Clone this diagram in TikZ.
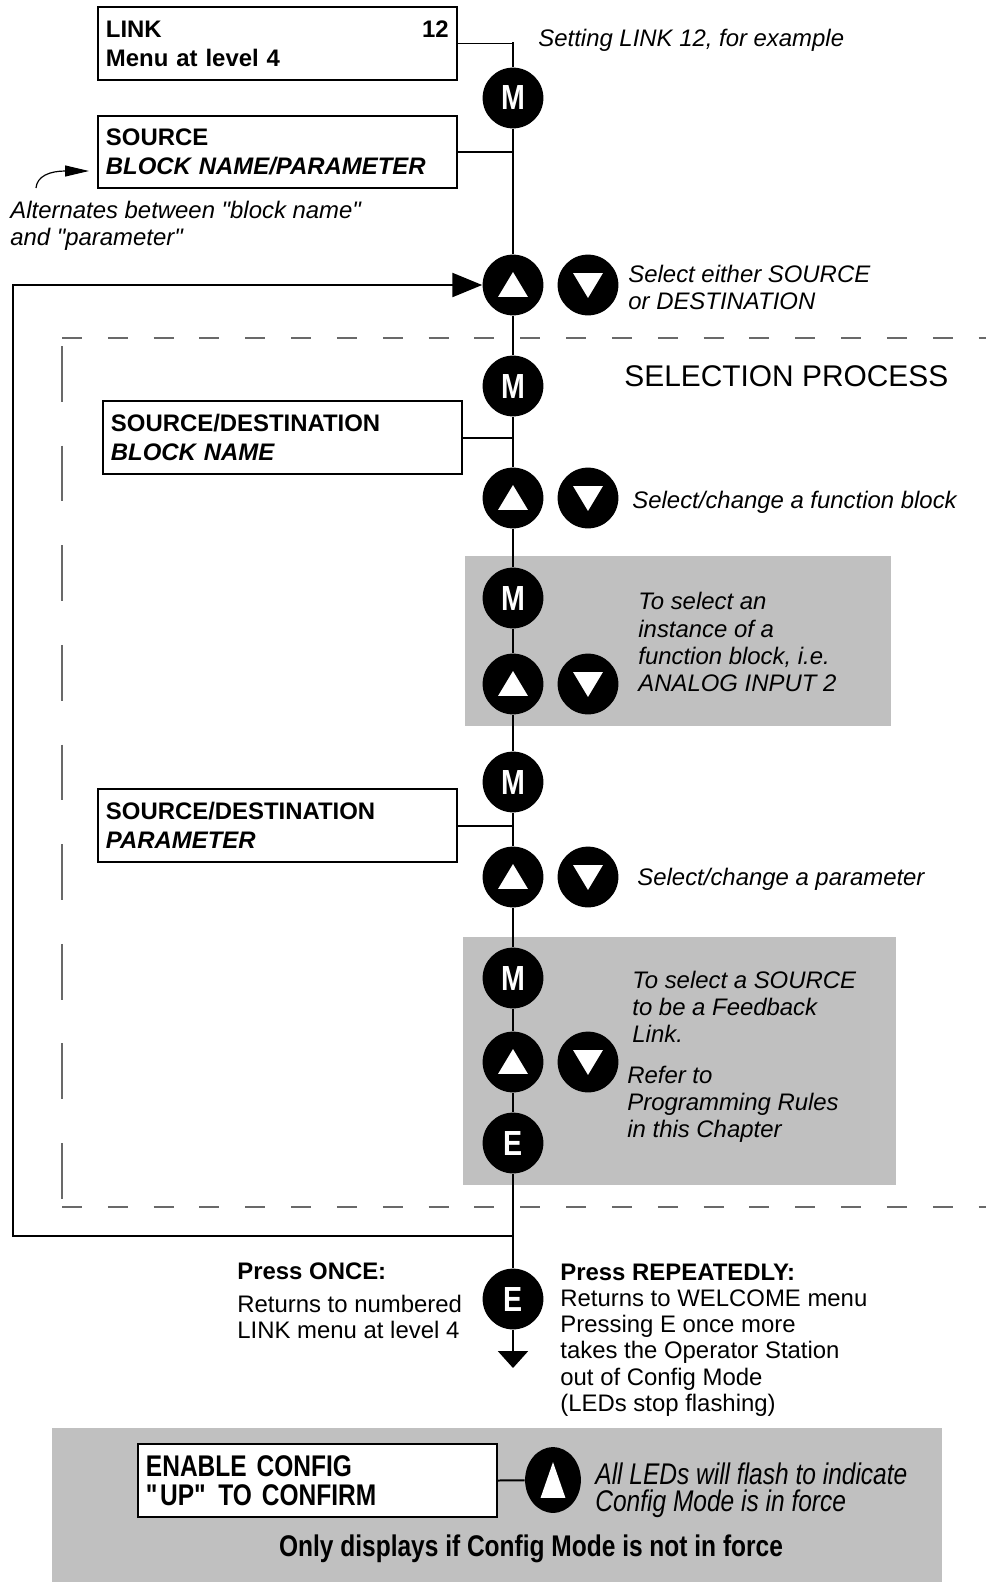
\documentclass[tikz,border=0pt]{standalone}
\usepackage{fontspec}
\setmainfont{Liberation Sans}
\newfontfamily\narrowfont[FakeStretch=0.82]{Liberation Sans}
\usetikzlibrary{arrows.meta, shapes.geometric, calc}

\definecolor{panelgray}{RGB}{192,192,192}
\definecolor{framegray}{RGB}{105,105,105}

\tikzset{
  flowline/.style={line width=1.25pt},
  btn/.style={circle, fill=black, minimum size=30.5pt, inner sep=0pt, text=white, font=\narrowfont\bfseries\fontsize{17.5}{17.5}\selectfont},
  upbtn/.style={btn, path picture={\fill[white] ([shift={(-7.5pt,-6pt)}]path picture bounding box.center) -- ++(15pt,0pt) -- ++(-7.5pt,12.5pt) -- cycle;}},
  dnbtn/.style={btn, path picture={\fill[white] ([shift={(-7.5pt,6pt)}]path picture bounding box.center) -- ++(15pt,0pt) -- ++(-7.5pt,-12.5pt) -- cycle;}},
  dispbox/.style={draw, line width=1pt, fill=white, anchor=west, text width=172pt, inner xsep=4pt, minimum height=36.5pt, align=left, font=\bfseries\fontsize{12}{14.5}\selectfont},
  lbl/.style={anchor=west, inner sep=0pt, align=left, font=\itshape\fontsize{12}{13.6}\selectfont},
  plain/.style={anchor=west, inner sep=0pt, align=left, font=\fontsize{12}{13.2}\selectfont}
}

\begin{document}
\begin{tikzpicture}[x=0.5bp, y=-0.5bp]
  \useasboundingbox (0,0) rectangle (986,1582);

  % shaded panels
  \fill[panelgray] (465,556) rectangle (891,726);
  \fill[panelgray] (463,937) rectangle (896,1185);
  \fill[panelgray] (52,1428) rectangle (942,1582);

  % selection frame
  \draw[framegray, line width=0.6pt, dash pattern=on 10pt off 13pt] (62,338) -- (986,338);
  \draw[framegray, line width=0.6pt, dash pattern=on 28pt off 22pt] (62,346) -- (62,1207);
  \draw[framegray, line width=0.6pt, dash pattern=on 10pt off 13pt] (62,1207) -- (986,1207);

  % displays
  \node[dispbox] (link) at (97,43.5) {LINK\hfill 12\hspace*{4.5pt}\\Menu at level 4};
  \node[dispbox] (source) at (97,152) {SOURCE\\\textit{BLOCK NAME/PARAMETER}};
  \node[dispbox] (bname) at (102,437.5) {SOURCE/DESTINATION\\\textit{BLOCK NAME}};
  \node[dispbox] (param) at (97,825.5) {SOURCE/DESTINATION\\\textit{PARAMETER}};

  % keys on the main path
  \coordinate (top) at (513,42);
  \node[btn] (m1) at (513,98) {M};
  \node[upbtn] (up1) at (513,285) {};
  \node[dnbtn] (dn1) at (588,285) {};
  \node[btn] (m2) at (513,386) {M};
  \node[upbtn] (up2) at (513,498) {};
  \node[dnbtn] (dn2) at (588,498) {};
  \node[btn] (m3) at (513,598) {M};
  \node[upbtn] (up3) at (513,684) {};
  \node[dnbtn] (dn3) at (588,684) {};
  \node[btn] (m4) at (513,782) {M};
  \node[upbtn] (up4) at (513,877) {};
  \node[dnbtn] (dn4) at (588,877) {};
  \node[btn] (m5) at (513,978) {M};
  \node[upbtn] (up5) at (513,1062) {};
  \node[dnbtn] (dn5) at (588,1062) {};
  \node[btn] (e1) at (513,1143) {E};
  \node[btn] (e2) at (513,1299) {E};
  \coordinate (fb) at (513,1236);
  \coordinate (loop) at (13,1236);
  \coordinate (exit) at (513,1368);

  \draw[flowline] (top) -- (m1) -- (up1) -- (m2) -- (up2) -- (m3) -- (up3) -- (m4) -- (up4) -- (m5) -- (up5) -- (e1) -- (e2);
  \draw[flowline, -{Triangle[width=15pt,length=8.5pt]}] (e2) -- (exit);
  \draw[flowline, -{Triangle[width=12pt,length=15pt]}] (fb) -- (loop) |- (up1);

  \draw[line width=1pt] (link.east) -- (link.east -| top);
  \draw[line width=1pt] (source.east) -- (source.east -| top);
  \draw[line width=1pt] (bname.east) -- (bname.east -| top);
  \draw[line width=1pt] (param.east) -- (param.east -| top);

  % alternating hint
  \coordinate (altstart) at (36,188);
  \coordinate (altend) at (89,171);
  \draw[line width=0.6pt, -{Triangle[width=5.5pt,length=12pt]}] (altstart) .. controls (37,176) and (50,171) .. (altend);
  \node[lbl] (alt) at (10,226) {Alternates between \textquotedbl block name\textquotedbl\\and \textquotedbl parameter\textquotedbl};

  % notes
  \node[lbl] (set) at (538,40) {Setting LINK 12, for example};
  \node[lbl] (selsrc) at (628,287) {Select either SOURCE\\or DESTINATION};
  \node[plain, font=\fontsize{15}{18}\selectfont] (selproc) at (624,376) {SELECTION PROCESS};
  \node[lbl] (selfb) at (632,502) {Select/change a function block};
  \node[lbl] (inst) at (638,642) {To select an\\instance of a\\function block, i.e.\\ANALOG INPUT 2};
  \node[lbl] (selpar) at (637,879) {Select/change a parameter};
  \node[lbl] (fbsrc) at (632,1007) {To select a SOURCE\\to be a Feedback\\Link.};
  \node[lbl] (refer) at (627,1104) {Refer to\\Programming Rules\\in this Chapter};

  \node[plain] (once) at (237,1301) {\textbf{Press ONCE:}\\[3pt]Returns to numbered\\LINK menu at level 4};
  \node[plain] (rep) at (560,1340) {\textbf{Press REPEATEDLY:}\\Returns to WELCOME menu\\Pressing E once more\\takes the Operator Station\\out of Config Mode\\(LEDs stop flashing)};

  % config prompt
  \node[dispbox, font=\narrowfont\bfseries\fontsize{15}{14.5}\selectfont] (enable) at (137,1480.5) {ENABLE CONFIG\\\textquotedbl UP\textquotedbl{} TO CONFIRM};
  \node[ellipse, fill=black, minimum width=28pt, minimum height=33pt, inner sep=0pt,
    path picture={\fill[white] ([shift={(-6.25pt,-9pt)}]path picture bounding box.center) -- ++(12.5pt,0pt) -- ++(-6.25pt,18pt) -- cycle;}] (upc) at (553,1480) {};
  \draw[line width=1pt] (enable.east) -- (upc);
  \node[lbl, font=\narrowfont\itshape\fontsize{15}{13.5}\selectfont] (leds) at (595,1490) {All LEDs will flash to indicate\\Config Mode is in force};
  \node[font=\narrowfont\bfseries\fontsize{15}{18}\selectfont, inner sep=0pt] (only) at (531,1549) {Only displays if Config Mode is not in force};
\end{tikzpicture}
\end{document}
